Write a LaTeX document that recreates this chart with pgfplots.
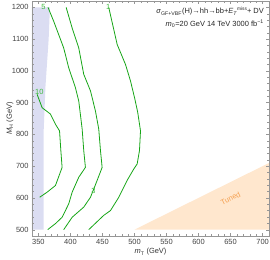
\documentclass[border=0pt]{standalone}
\usepackage{pgfplots}
\pgfplotsset{compat=1.18}
\usepackage{fontspec}
\setmainfont{Liberation Sans}
\definecolor{cgreen}{RGB}{22,165,22}
\definecolor{lgreen}{RGB}{60,185,60}
\definecolor{shadeblue}{RGB}{219,221,242}
\definecolor{peach}{RGB}{255,231,206}
\definecolor{tunedor}{RGB}{245,160,80}
\definecolor{framegray}{RGB}{150,150,150}
\begin{document}
\begin{tikzpicture}[font=\fontsize{7.5}{9}\selectfont]
\begin{axis}[name=ax, scale only axis, width=237bp, height=235bp,
  xmin=340, xmax=710, ymin=480, ymax=1220,
  xtick={350,400,...,700}, ytick={500,600,...,1200},
  minor x tick num=4, minor y tick num=4,
  tick align=inside, major tick length=3bp, minor tick length=1.6bp,
  axis line style={framegray, line width=0.4pt},
  tick style={framegray, line width=0.3pt},
  every tick label/.append style={font=\fontsize{7.5}{9}\selectfont, text=black!75},
  /pgf/number format/assume math mode=true, /pgf/number format/1000 sep={},
  xlabel={\textit{m}\textsubscript{T} (GeV)},
  ylabel={\textit{M}\textsubscript{H} (GeV)},
  xlabel style={at={(axis description cs:0.5,-0.068)}, anchor=center, text=black!80},
  ylabel style={at={(axis description cs:-0.093,0.5)}, anchor=center, text=black!80},
  axis on top, clip=true]
\addplot[fill=shadeblue, draw=none] coordinates {(340,500) (340,1200) (368,1200) (366,1100) (361,950) (358,800) (358,500)} -- cycle;
\addplot[fill=peach, draw=none] coordinates {(500,500) (720,720) (720,500)} -- cycle;
% contour 10
\addplot[cgreen, line width=0.8pt] coordinates {(348,926) (355.8,884) (368.8,864) (376.6,832) (383,811) (385,750) (387,696) (376.6,639) (363.6,618) (352,602)};
% contour 5
\addplot[cgreen, line width=0.8pt] coordinates {(365,1200) (373.9,1156) (381.7,1114) (389.5,1072) (397.3,1010) (407.8,947) (413,905) (418.3,817) (420.8,749) (423.4,696) (413,665) (402.7,618) (397.3,581) (387,539) (376.6,519) (364.5,500)};
% contour 3
\addplot[cgreen, line width=0.8pt] coordinates {(393.3,1200) (402.7,1135) (413,1072) (420.8,989) (431.3,937) (439,874) (444.2,817) (446.9,749) (449.5,696) (441.7,655) (431.3,602) (420.8,571) (402.7,539) (389.5,500)};
% contour 1
\addplot[cgreen, line width=0.8pt] coordinates {(459.8,1200) (473,1083) (486,1020) (493.8,968) (500.5,912) (505,870) (509.4,811) (507.8,749) (504.2,707) (498.9,691) (488.5,655) (475.5,602) (462.5,560) (452,545) (428.6,500)};
\node[text=lgreen] at (axis cs:358,1200) {5};
\node[text=lgreen] at (axis cs:459,1201) {1};
\node[text=lgreen] at (axis cs:351.5,934) {10};
\node[text=lgreen] at (axis cs:436,623) {3};
\node[text=tunedor, rotate=26.4] at (axis cs:650,598) {Tuned};
\node[anchor=north east, align=right, font=\fontsize{7.5}{12.5}\selectfont, text=black!85, inner sep=0pt] at (rel axis cs:0.979,0.975)
 {\textit{σ}\textsubscript{GF+VBF}(H)→hh→bb+\textit{E}\textsubscript{\textit{T}}\hspace{-0.3pt}\raisebox{3.4pt}{\fontsize{4.8}{5}\selectfont miss}+ DV\\
  \textit{m}\textsubscript{0}=20 GeV 14 TeV 3000 fb\textsuperscript{−1}};
\end{axis}
\pgfresetboundingbox
\path ([shift={(-32bp,-24bp)}]ax.south west) rectangle ([shift={(1bp,1bp)}]ax.north east);
\end{tikzpicture}
\end{document}
